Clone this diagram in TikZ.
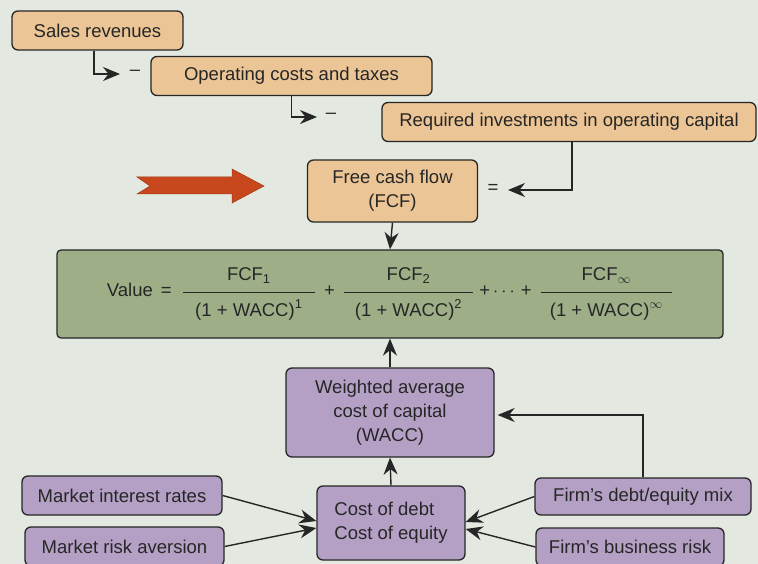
\documentclass[tikz,border=0pt]{standalone}
\usepackage{fix-cm}
\usepackage{amsmath}
\usepackage{fontspec}
\setmainfont{Liberation Sans}
\usetikzlibrary{arrows.meta}

\definecolor{bgcol}{HTML}{E3E8E1}
\definecolor{cashcol}{HTML}{EBC595}
\definecolor{valuecol}{HTML}{9EAF88}
\definecolor{ratecol}{HTML}{B4A0C5}
\definecolor{bigarrowcol}{HTML}{C8471C}
\definecolor{linecol}{HTML}{262626}

\begin{document}
\begin{tikzpicture}[x=1pt, y=-1pt,
    font=\fontsize{18.5}{24}\selectfont,
    box/.style={draw=linecol, line width=1.3pt, rounded corners=6pt,
      inner sep=0pt, align=center, text=linecol},
    cashbox/.style={box, fill=cashcol},
    ratebox/.style={box, fill=ratecol},
    arr/.style={draw=linecol, line width=1.4pt,
      -{Stealth[length=17pt,width=14pt]}},
  ]
  \useasboundingbox (0,0) rectangle (758,564);
  \clip (0,0) rectangle (758,564);
  \fill[bgcol] (0,0) rectangle (758,564);

  % cash flow boxes
  \node[cashbox, minimum width=171pt, minimum height=39pt] (sales) at (97.5,30.5) {Sales revenues};
  \node[cashbox, minimum width=281pt, minimum height=39pt] (opcost) at (291.5,76) {Operating costs and taxes};
  \node[cashbox, minimum width=374pt, minimum height=39pt] (reqinv) at (569,122) {Required investments in operating capital};
  \node[cashbox, minimum width=170pt, minimum height=62pt] (fcf) at (392.5,191) {Free cash flow\\(FCF)};

  \coordinate (tipA) at (120,74);
  \node[text=linecol] (minusA) at (135,73) {--};
  \coordinate (tipB) at (317,117);
  \node[text=linecol] (minusB) at (331,116) {--};
  \coordinate (tipC) at (508,190);
  \node[text=linecol] (equal) at (493,189) {=};

  \draw[arr] ([xshift=-3.5pt]sales.south) |- (tipA);
  \draw[arr] (opcost.south) |- (tipB);
  \draw[arr] ([xshift=3pt]reqinv.south) |- (tipC);

  % big red arrow
  \fill[bigarrowcol, draw=bigarrowcol!80!black, line width=0.5pt]
    (137,177) -- (232,177) -- (232,169) -- (264,186) -- (232,203)
    -- (232,194) -- (137,194) -- (150,186) -- cycle;

  % value formula
  \node[box, fill=valuecol, rounded corners=4pt, minimum width=666pt, minimum height=88pt] (value) at (390,294)
    {Value\hspace{8pt}=\hspace{10pt}%
     $\dfrac{\makebox[132pt]{FCF$_{\text{1}}$\rule[-9pt]{0pt}{9pt}}}{\text{(1 + WACC)}^{\text{1}}\rule{0pt}{22pt}}$%
     \hspace{8pt}+\hspace{8pt}%
     $\dfrac{\makebox[129pt]{FCF$_{\text{2}}$\rule[-9pt]{0pt}{9pt}}}{\text{(1 + WACC)}^{\text{2}}\rule{0pt}{22pt}}$%
     \hspace{5pt}+\,$\cdots$\,+\hspace{8pt}%
     $\dfrac{\makebox[131pt]{FCF$_{\infty}$\rule[-9pt]{0pt}{9pt}}}{\text{(1 + WACC)}^{\infty}\rule{0pt}{22pt}}$};

  \draw[arr] (fcf.south) -- (value.north);

  % cost of capital boxes
  \node[ratebox, minimum width=208pt, minimum height=89pt] (wacc) at (390,412.5) {Weighted average\\cost of capital\\(WACC)};
  \node[ratebox, minimum width=148pt, minimum height=74pt, align=left] (cost) at (391,523) {Cost of debt\\Cost of equity};
  \node[ratebox, minimum width=200pt, minimum height=39pt] (interest) at (122,495.5) {Market interest rates};
  \node[ratebox, minimum width=199pt, minimum height=39pt] (aversion) at (124.5,546.5) {Market risk aversion};
  \node[ratebox, minimum width=216pt, minimum height=37pt] (debtmix) at (643,496.5) {Firm's debt/equity mix};
  \node[ratebox, minimum width=188pt, minimum height=38pt] (bizrisk) at (630,547) {Firm's business risk};

  \draw[arr] (wacc.north) -- (value.south);
  \draw[arr] (cost.north) -- (wacc.south);
  \draw[arr, shorten >=3pt] (debtmix.north) |- ([yshift=-2.5pt]wacc.east);
  \draw[arr] (interest.east) -- ([yshift=2pt]cost.west);
  \draw[arr] (aversion.east) -- ([yshift=-5pt]cost.west);
  \draw[arr] (debtmix.west) -- ([yshift=1pt]cost.east);
  \draw[arr] (bizrisk.west) -- ([yshift=-6pt]cost.east);
\end{tikzpicture}
\end{document}
